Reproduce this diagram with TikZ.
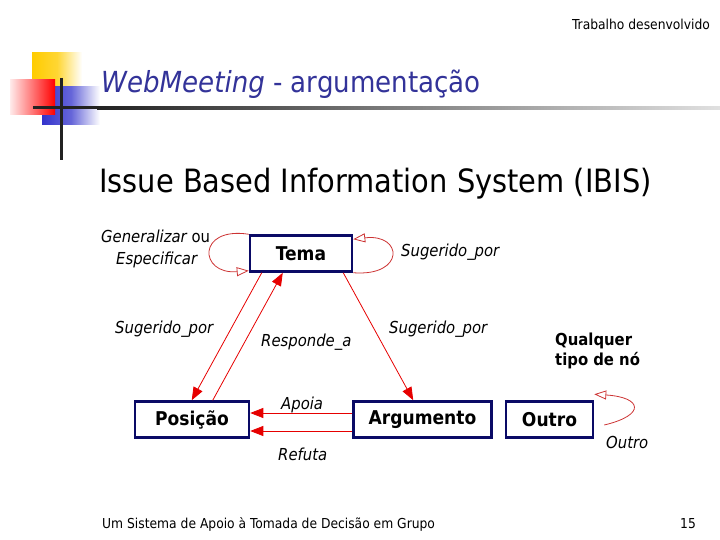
\documentclass[tikz,border=0pt]{standalone}
\usepackage{fontspec}
\setmainfont{DejaVu Sans Condensed}
\usetikzlibrary{arrows.meta,positioning,calc}
\definecolor{ibisnavy}{HTML}{0A0A66}
\definecolor{ibistitle}{HTML}{333399}
\definecolor{ibisred}{HTML}{E60000}
\definecolor{ibisloop}{HTML}{CC3333}
\definecolor{ibisgold}{HTML}{FFCC00}
\definecolor{ibisblue}{HTML}{3333CC}
\definecolor{ibisink}{HTML}{222222}
\tikzset{
  ibisnode/.style={draw=ibisnavy, line width=2.5pt, fill=white, inner sep=0pt,
    minimum height=36pt, font=\fontsize{19}{19}\selectfont\bfseries},
  rel/.style={-{Triangle[length=13pt, width=10pt]}, ibisred, line width=0.8pt},
  relloop/.style={-{Triangle[open, length=12pt, width=9pt]}, ibisloop, line width=0.8pt},
  rellabel/.style={anchor=base west, inner sep=0pt, font=\fontsize{16.5}{16.5}\selectfont\itshape},
  notelabel/.style={anchor=base west, inner sep=0pt, align=left,
    font=\fontsize{16.5}{19.5}\selectfont\bfseries},
  small/.style={anchor=base west, inner sep=0pt, font=\fontsize{13.7}{13.7}\selectfont},
}

\begin{document}
\begin{tikzpicture}[x=1pt, y=-1pt]
\useasboundingbox (0,0) rectangle (720,540);

% ---- slide decoration ------------------------------------------------
\shade[left color=ibisgold, right color=white, middle color=ibisgold!80] (32,53) rectangle (82,100);
\shade[left color=ibisblue, right color=white, middle color=ibisblue!75] (42,87) rectangle (100,125);
\shade[left color=red!8, right color=red] (10,80) rectangle (55,115);
\draw[ibisink, line width=3pt] (61,78) -- (61,160);
\draw[ibisink, line width=3pt] (33,108) -- (97,108);
\shade[left color=ibisink, right color=black!12] (97,106.5) rectangle (720,109.5);

% ---- slide texts -----------------------------------------------------
\node[small] (header) at (572,30) {Trabalho desenvolvido};
\node[anchor=base west, inner sep=0pt, text=ibistitle, font=\fontsize{29}{29}\selectfont]
  (title) at (101,93) {\textit{WebMeeting} - argumentação};
\node[anchor=base west, inner sep=0pt, font=\fontsize{32.1}{32.1}\selectfont]
  (subtitle) at (99,193) {Issue Based Information System (IBIS)};
\node[small] (footer) at (102,528) {Um Sistema de Apoio à Tomada de Decisão em Grupo};
\node[small] (pagenum) at (680,528) {15};

% ---- IBIS nodes ------------------------------------------------------
\node[ibisnode, minimum width=102pt] (tema) at (301,253.5) {Tema};
\node[ibisnode, minimum width=114pt] (posicao) at (192,419.5) {Posição};
\node[ibisnode, minimum width=138pt, right=102pt of posicao] (argumento) {Argumento};
\node[ibisnode, minimum width=87pt, right=12pt of argumento] (outro) {Outro};

% ---- relations -------------------------------------------------------
\draw[relloop] (tema.north west) .. controls +(-52,-8) and +(-50,4) .. ([yshift=2pt]tema.south west);
\draw[relloop] (tema.south east) .. controls +(52,4) and +(50,-6) .. ([yshift=-5pt]tema.north east);
\draw[rel] ([xshift=13pt]tema.south west) -- ([xshift=58pt]posicao.north west);
\draw[rel] ([xshift=79pt]posicao.north west) -- ([xshift=34pt]tema.south west);
\draw[rel] ([xshift=-10pt]tema.south east) -- ([xshift=61pt]argumento.north west);
\draw[rel] ([yshift=6.5pt]argumento.west) -- ([yshift=6.5pt]posicao.east);
\draw[rel] ([yshift=-11.5pt]argumento.west) -- ([yshift=-11.5pt]posicao.east);
\draw[relloop] ([xshift=10pt, yshift=-5.5pt]outro.east) .. controls +(42,-10) and +(48,3) .. ([yshift=6pt]outro.north east);

% ---- relation labels -------------------------------------------------
\node[rellabel] (lblgen) at (101,243) {Generalizar \upshape ou};
\node[rellabel] (lblesp) at (116,264) {Especificar};
\node[rellabel] (lblsugtop) at (401,256) {Sugerido\_por};
\node[rellabel] (lblsugleft) at (115,333) {Sugerido\_por};
\node[rellabel] (lblresp) at (261,346) {Responde\_a};
\node[rellabel] (lblsugright) at (389,333) {Sugerido\_por};
\node[rellabel] (lblapoia) at (281,409) {Apoia};
\node[rellabel] (lblrefuta) at (278,460) {Refuta};
\node[rellabel] (lbloutro) at (606,448) {Outro};
\node[notelabel] (lblany) at (555,365) {Qualquer\\tipo de nó};

\end{tikzpicture}
\end{document}
